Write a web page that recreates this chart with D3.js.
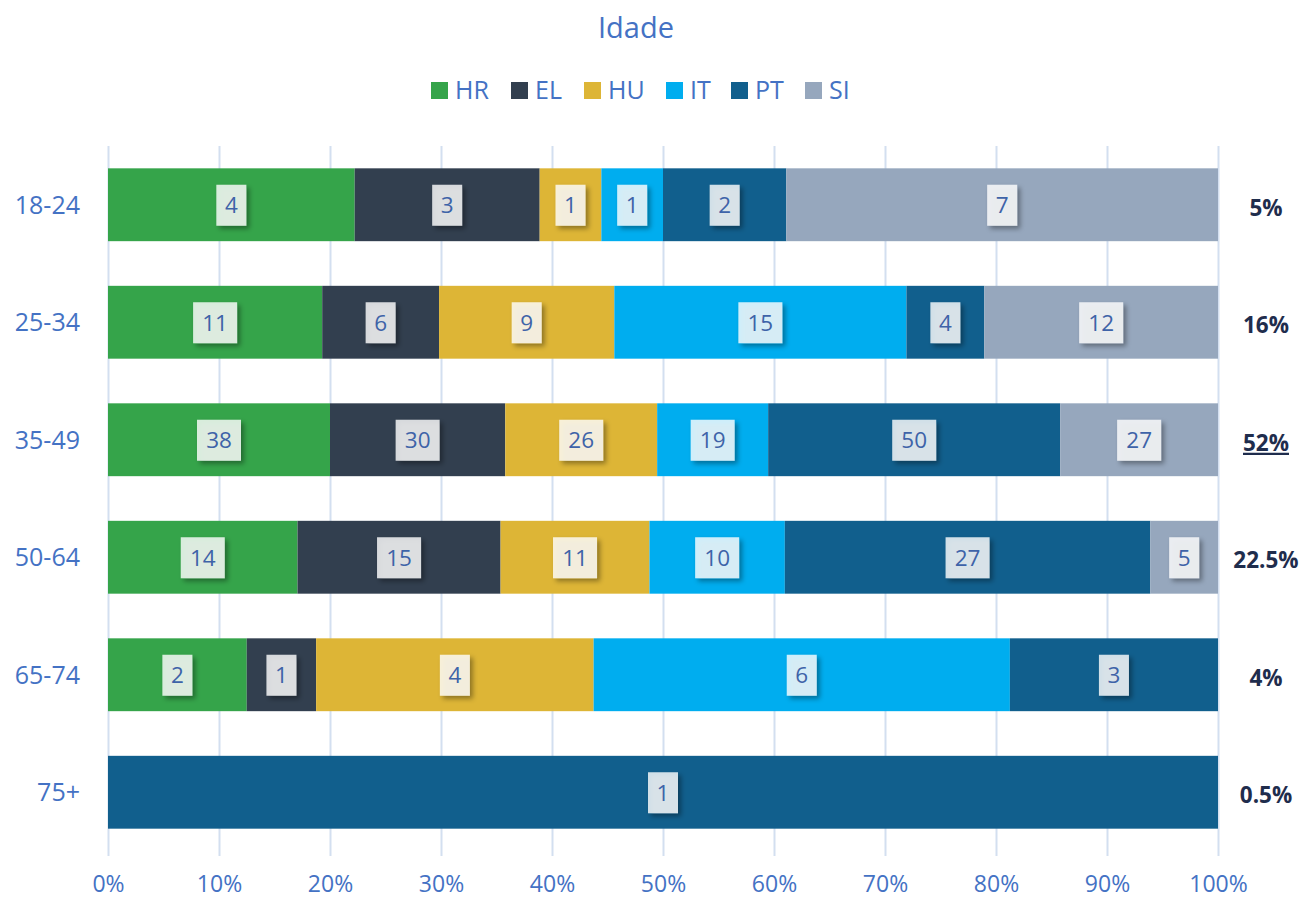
<!DOCTYPE html>
<html>
<head>
<meta charset="utf-8">
<script src="https://cdn.jsdelivr.net/npm/d3@7"></script>
<style>
  body { margin: 0; background: #fff; }
  text { font-family: "Open Sans", sans-serif; }
</style>
</head>
<body>
<svg id="chart" width="1303" height="898"></svg>
<script>
// data
let categories = ["18-24", "25-34", "35-49", "50-64", "65-74", "75+"];
let keys = ["HR", "EL", "HU", "IT", "PT", "SI"];
let HR = [4, 11, 38, 14, 2, 0];
let EL = [3, 6, 30, 15, 1, 0];
let HU = [1, 9, 26, 11, 4, 0];
let IT = [1, 15, 19, 10, 6, 0];
let PT = [2, 4, 50, 27, 3, 1];
let SI = [7, 12, 27, 5, 0, 0];
let shares = ["5%", "16%", "52%", "22.5%", "4%", "0.5%"];
let xTicks = [0, 0.1, 0.2, 0.3, 0.4, 0.5, 0.6, 0.7, 0.8, 0.9, 1];

let colors = ["#35a44a", "#323f4f", "#ddb536", "#00adef", "#115f8d", "#96a7bd"];
let series = [HR, EL, HU, IT, PT, SI];

let rows = categories.map((c, i) => {
  let row = { cat: c };
  keys.forEach((k, j) => (row[k] = series[j][i]));
  return row;
});

let svg = d3.select("#chart");
let blue = "#4472c4";

let leftMargin = 108, rightMargin = 85, topMargin = 146, bottomMargin = 47,
  width = 1303, height = 898;

let xScale = d3.scaleLinear().domain([0, 1]).range([leftMargin, width - rightMargin]);
let yScale = d3.scaleBand().domain(categories)
  .range([topMargin, height - bottomMargin]).paddingInner(0.38).paddingOuter(0.19);

// shadow filter for the data labels
let defs = svg.append("defs");
let f = defs.append("filter").attr("id", "shadow")
  .attr("x", "-50%").attr("y", "-50%").attr("width", "200%").attr("height", "200%");
f.append("feDropShadow").attr("dx", 3).attr("dy", 3).attr("stdDeviation", 2.5)
  .attr("flood-color", "#000").attr("flood-opacity", 0.45);

// title
svg.append("text")
  .attr("x", 636).attr("y", 38)
  .attr("text-anchor", "middle")
  .style("font-size", "29px").style("fill", blue)
  .text("Idade");

// legend
let legendX = [431, 511, 584, 666, 731, 805];
let legend = svg.append("g");
keys.forEach((k, i) => {
  legend.append("rect").attr("x", legendX[i]).attr("y", 82)
    .attr("width", 17).attr("height", 17).style("fill", colors[i]);
  legend.append("text").attr("x", legendX[i] + 24).attr("y", 99)
    .style("font-size", "25px").style("fill", blue).text(k);
});

// gridlines
let xAxis = d3.axisBottom(xScale).tickValues(xTicks).tickFormat(d3.format(".0%"))
  .tickSize(-(height - bottomMargin - topMargin + 5)).tickPadding(20);
let gx = svg.append("g")
  .attr("transform", `translate(0,${height - bottomMargin + 5})`)
  .call(xAxis);
gx.select(".domain").remove();
gx.selectAll("line").style("stroke", "#d3dff0").style("stroke-width", 2);
gx.selectAll("text").style("font-size", "23px").style("fill", blue)
  .style("font-family", "'Open Sans', sans-serif");

// stacked bars
let stack = d3.stack().keys(keys).offset(d3.stackOffsetExpand);
let stacked = stack(rows);

let layers = svg.selectAll(".layer").data(stacked).enter()
  .append("g").attr("class", "layer")
  .style("fill", (d, i) => colors[i]);

layers.selectAll("rect").data((d) => d).enter()
  .append("rect")
  .attr("x", (d) => xScale(d[0]))
  .attr("y", (d) => yScale(d.data.cat))
  .attr("width", (d) => xScale(d[1]) - xScale(d[0]))
  .attr("height", yScale.bandwidth());

// data labels
let labels = [];
stacked.forEach((layer) => {
  layer.forEach((d) => {
    let v = d.data[layer.key];
    if (v > 0) labels.push({ v: v, x: (xScale(d[0]) + xScale(d[1])) / 2, cat: d.data.cat });
  });
});

let lab = svg.selectAll(".lab").data(labels).enter().append("g").attr("class", "lab")
  .attr("transform", (d) => `translate(${d.x},${yScale(d.cat) + yScale.bandwidth() / 2})`);
lab.append("rect")
  .attr("x", (d) => -(String(d.v).length * 7 + 8))
  .attr("y", -20)
  .attr("width", (d) => 2 * (String(d.v).length * 7 + 8))
  .attr("height", 41)
  .style("fill", "rgba(255,255,255,0.8)")
  .attr("filter", "url(#shadow)");
lab.append("text")
  .attr("text-anchor", "middle").attr("y", 8.5)
  .style("font-size", "22.5px").style("fill", "#3e63a8")
  .text((d) => d.v);

// category labels
svg.selectAll(".cat").data(categories).enter().append("text")
  .attr("x", 80).attr("y", (d) => yScale(d) + yScale.bandwidth() / 2 + 9)
  .attr("text-anchor", "end")
  .style("font-size", "25px").style("fill", blue)
  .text((d) => d);

// share labels on the right
svg.selectAll(".share").data(shares).enter().append("text")
  .attr("x", 1266).attr("y", (d, i) => yScale(categories[i]) + yScale.bandwidth() / 2 + 11)
  .attr("text-anchor", "middle")
  .style("font-size", "22.5px").style("font-weight", "bold").style("fill", "#1f2d4d")
  .style("text-decoration", (d) => (d === "52%" ? "underline" : "none"))
  .text((d) => d);
</script>
</body>
</html>
